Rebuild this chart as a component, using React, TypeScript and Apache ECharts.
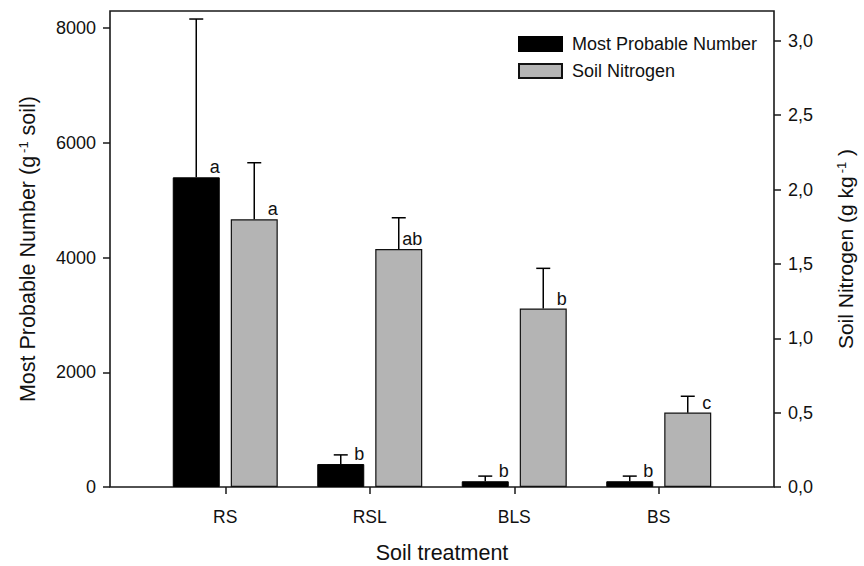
import React, { useEffect, useRef } from "react";
import * as echarts from "echarts";

const categories = ["RS", "RSL", "BLS", "BS"];
const mpnValues = [5400, 400, 100, 100];
const mpnErrors = [2760, 160, 90, 90];
const nitrogenValues = [1.8, 1.6, 1.2, 0.5];
const nitrogenErrors = [0.38, 0.21, 0.27, 0.11];
const mpnLetters = ["a", "b", "b", "b"];
const nitrogenLetters = ["a", "ab", "b", "c"];
const mpnTicks = [0, 2000, 4000, 6000, 8000];
const nitrogenTicks = [0, 0.5, 1, 1.5, 2, 2.5, 3];

const FONT = "'Liberation Sans', Arial, Helvetica, sans-serif";
const BAR_W = 47;
const BAR_GAP = 11;
const INK = "#111";

function errorRenderer(side: number) {
  return (params: any, api: any) => {
    const i = api.value(0);
    const v = api.value(1);
    const e = api.value(2);
    const p0 = api.coord([i, v]);
    const p1 = api.coord([i, v + e]);
    const x = p0[0] + (side * (BAR_W + BAR_GAP)) / 2;
    const st = { stroke: "#000", lineWidth: 1.5 };
    return {
      type: "group",
      children: [
        { type: "line", shape: { x1: x, y1: p0[1], x2: x, y2: p1[1] }, style: st },
        { type: "line", shape: { x1: x - 7, y1: p1[1], x2: x + 7, y2: p1[1] }, style: st },
      ],
    };
  };
}

export default function App() {
  const ref = useRef<HTMLDivElement>(null);
  useEffect(() => {
    document.body.style.margin = "0";
    const chart = echarts.init(ref.current!, null, { renderer: "svg" });
    const letterLabel = (letters: string[]) => ({
      show: true,
      formatter: (p: any) => letters[p.dataIndex],
      position: ["100%", -1],
      align: "right",
      verticalAlign: "bottom",
      fontSize: 18,
      fontFamily: FONT,
      color: INK,
    });
    const supStyle = {
      fontSize: 13,
      verticalAlign: "top",
      fontFamily: FONT,
      color: INK,
      padding: [0, 0, 0, 3],
    };
    chart.setOption({
      animation: false,
      backgroundColor: "#fff",
      textStyle: { fontFamily: FONT, color: INK },
      grid: [
        {
          left: 153,
          top: 11,
          width: 578,
          height: 476,
          containLabel: false,
          outerBoundsMode: "none",
        },
        {
          left: 110,
          top: 11,
          width: 664,
          height: 476,
          show: true,
          borderColor: "#1a1a1a",
          borderWidth: 1.6,
          backgroundColor: "transparent",
          outerBoundsMode: "none",
        },
      ],
      legend: {
        orient: "vertical",
        left: 518,
        top: 35,
        padding: 0,
        itemWidth: 43,
        itemHeight: 14,
        itemGap: 9,
        icon: "rect",
        data: ["Most Probable Number", "Soil Nitrogen"],
        textStyle: { fontSize: 18, fontFamily: FONT, color: INK, padding: [0, 0, 0, 5] },
      },
      xAxis: [
        {
          type: "category",
          gridIndex: 0,
          data: categories,
          axisLine: { show: false },
          axisTick: {
            show: true,
            alignWithLabel: true,
            length: 7,
            lineStyle: { color: "#1a1a1a", width: 1.5 },
          },
          axisLabel: { fontSize: 17.5, color: INK, margin: 21, fontFamily: FONT },
          name: "Soil treatment",
          nameLocation: "middle",
          nameGap: 55,
          nameTextStyle: { fontSize: 21.5, lineHeight: 22, color: INK, fontFamily: FONT },
        },
        { type: "value", gridIndex: 1, show: false, min: 0, max: 1 },
      ],
      yAxis: [
        {
          type: "value",
          gridIndex: 0,
          position: "left",
          offset: 43,
          min: 0,
          max: 8300,
          splitLine: { show: false },
          axisLine: { show: false },
          axisTick: {
            show: true,
            length: 7,
            customValues: mpnTicks,
            lineStyle: { color: "#1a1a1a", width: 1.5 },
          },
          axisLabel: {
            customValues: mpnTicks,
            fontSize: 18,
            color: INK,
            margin: 14,
            fontFamily: FONT,
            formatter: (v: number) => String(v),
          },
          name: "Most Probable Number (g{sup|-1} soil)",
          nameLocation: "middle",
          nameRotate: 90,
          nameGap: 71,
          nameTextStyle: {
            fontSize: 21.5,
            color: INK,
            fontFamily: FONT,
            rich: { sup: supStyle },
          },
        },
        {
          type: "value",
          gridIndex: 0,
          position: "right",
          offset: 43,
          min: 0,
          max: 3.2,
          splitLine: { show: false },
          axisLine: { show: false },
          axisTick: {
            show: true,
            length: 7,
            customValues: nitrogenTicks,
            lineStyle: { color: "#1a1a1a", width: 1.5 },
          },
          axisLabel: {
            customValues: nitrogenTicks,
            fontSize: 18,
            color: INK,
            margin: 14,
            fontFamily: FONT,
            formatter: (v: number) => v.toFixed(1).replace(".", ","),
          },
          name: "Soil Nitrogen (g kg{sup|-1} )",
          nameLocation: "middle",
          nameRotate: 90,
          nameGap: 61,
          nameTextStyle: {
            fontSize: 21,
            color: INK,
            fontFamily: FONT,
            rich: { sup: supStyle },
          },
        },
        { type: "value", gridIndex: 1, show: false, min: 0, max: 1 },
      ],
      series: [
        {
          name: "Most Probable Number",
          type: "bar",
          xAxisIndex: 0,
          yAxisIndex: 0,
          data: mpnValues,
          barWidth: BAR_W,
          barGap: `${(BAR_GAP / BAR_W) * 100}%`,
          itemStyle: { color: "#000", borderColor: "#000", borderWidth: 1 },
          label: letterLabel(mpnLetters),
        },
        {
          name: "Soil Nitrogen",
          type: "bar",
          xAxisIndex: 0,
          yAxisIndex: 1,
          data: nitrogenValues,
          barWidth: BAR_W,
          barGap: `${(BAR_GAP / BAR_W) * 100}%`,
          itemStyle: { color: "#b4b4b4", borderColor: "#111", borderWidth: 1.2 },
          label: letterLabel(nitrogenLetters),
        },
        {
          type: "custom",
          xAxisIndex: 0,
          yAxisIndex: 0,
          renderItem: errorRenderer(-1),
          encode: { x: 0, y: 1 },
          data: categories.map((_, i) => [i, mpnValues[i], mpnErrors[i]]),
          z: 3,
        },
        {
          type: "custom",
          xAxisIndex: 0,
          yAxisIndex: 1,
          renderItem: errorRenderer(1),
          encode: { x: 0, y: 1 },
          data: categories.map((_, i) => [i, nitrogenValues[i], nitrogenErrors[i]]),
          z: 3,
        },
      ],
    });
    return () => chart.dispose();
  }, []);
  return <div ref={ref} style={{ width: 864, height: 566 }} />;
}
